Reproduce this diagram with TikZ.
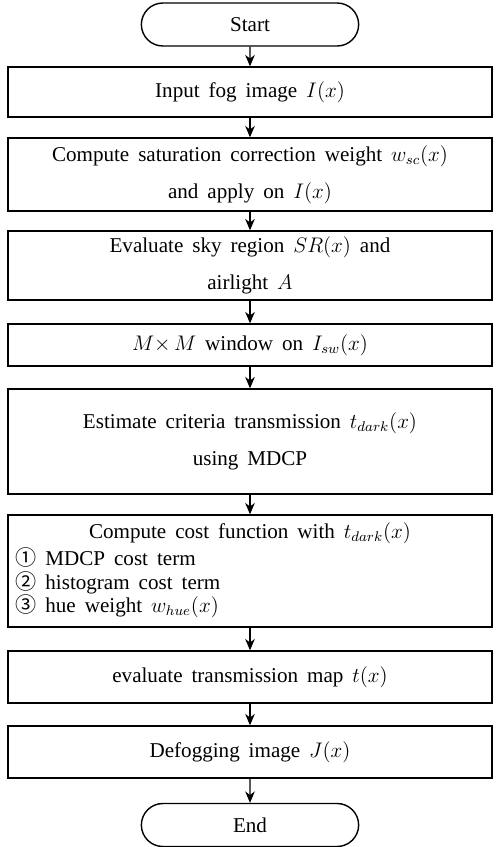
\documentclass[tikz,border=0pt]{standalone}
\usepackage{amsmath}
\usepackage{fontspec}
\setmainfont{Liberation Serif}[WordSpace=1.7]
\newfontfamily\circfont{Noto Sans CJK KR}
\usepackage{tikz}
\usetikzlibrary{shapes.misc}
\usetikzlibrary{arrows.meta}

\begin{document}
\begin{tikzpicture}[
  term/.style={draw, line width=0.8pt, rounded rectangle, minimum width=4.58cm, minimum height=0.86cm, font=\fontsize{12}{21}\selectfont},
  proc/.style={draw, line width=0.8pt, minimum width=9.68cm, align=center, inner sep=0pt, font=\fontsize{12}{21}\selectfont},
  flow/.style={line width=0.6pt, -{Stealth[length=6.5pt,width=5.5pt]}},
  item/.style={anchor=base west, inner sep=0pt, font=\fontsize{12}{14}\selectfont}]
\useasboundingbox (0,0) rectangle (10,-16.94);
\node [term] (start) at (5,-0.49) {Start};
\node [proc, minimum height=1.0cm] (input) at (5,-1.84) {Input fog image $I(x)$};
\node [proc, minimum height=1.46cm] (satur) at (5,-3.49) {Compute saturation correction weight $w_{sc}(x)$\\ and apply on $I(x)$};
\node [proc, minimum height=1.38cm] (sky) at (5,-5.31) {Evaluate sky region $SR(x)$ and\\ airlight $A$};
\node [proc, minimum height=0.84cm] (window) at (5,-6.90) {$M{\times}\,M$ window on $I_{sw}(x)$};
\node [proc, minimum height=2.1cm] (criteria) at (5,-8.83) {Estimate criteria transmission $t_{dark}(x)$\\ using MDCP};
\node [proc, minimum height=2.24cm] (cost) at (5,-11.42) {};
\node [anchor=base, inner sep=0pt, font=\fontsize{12}{14}\selectfont] (costtitle) at (5,-10.76) {Compute cost function with $t_{dark}(x)$};
\node [item] (term1) at (0.3,-11.30) {{\circfont ①} MDCP cost term};
\node [item] (term2) at (0.3,-11.78) {{\circfont ②} histogram cost term};
\node [item] (term3) at (0.3,-12.24) {{\circfont ③} hue weight $w_{hue}(x)$};
\node [proc, minimum height=1.04cm] (tmap) at (5,-13.54) {evaluate transmission map $t(x)$};
\node [proc, minimum height=1.04cm] (defog) at (5,-15.04) {Defogging image $J(x)$};
\node [term] (end) at (5,-16.50) {End};
% arrows
\draw [flow] (start) -- (input);
\draw [flow] (input) -- (satur);
\draw [flow] (satur) -- (sky);
\draw [flow] (sky) -- (window);
\draw [flow] (window) -- (criteria);
\draw [flow] (criteria) -- (cost);
\draw [flow] (cost) -- (tmap);
\draw [flow] (tmap) -- (defog);
\draw [flow] (defog) -- (end);
\end{tikzpicture}
\end{document}
